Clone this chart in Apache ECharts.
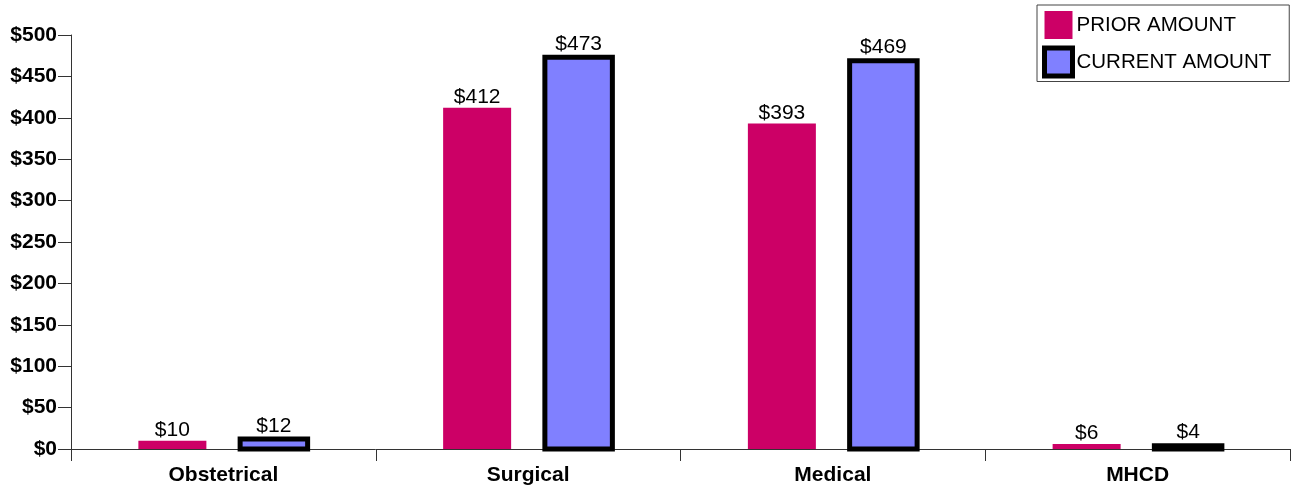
<!DOCTYPE html>
<html>
<head>
<meta charset="utf-8">
<script src="https://cdn.jsdelivr.net/npm/echarts@6/dist/echarts.min.js"></script>
<style>html,body{margin:0;padding:0;background:#fff}#c{width:1298px;height:487px}</style>
</head>
<body>
<div id="c"></div>
<script>
var categories = ['Obstetrical', 'Surgical', 'Medical', 'MHCD'];
var priorAmount = [10, 412, 393, 6];
var currentAmount = [12, 473, 469, 4];
var yTicks = [0, 50, 100, 150, 200, 250, 300, 350, 400, 450, 500];

var font = 'Liberation Sans, Arial, sans-serif';
var PRIOR_COLOR = '#CC0066';
var CURRENT_COLOR = '#8080FF';

function toPairs(arr) { return arr.map(function (v, i) { return [i, v]; }); }

// bar drawn through the axis scales: offset and width are fractions of the category band
function barRenderer(offsetFrac, widthFrac, fill, stroke, lineWidth) {
  return function (params, api) {
    var idx = api.value(0), v = api.value(1);
    var top = api.coord([idx, v]);
    var base = api.coord([idx, 0]);
    var band = api.size([1, 0])[0];
    var w = band * widthFrac;
    var cx = top[0] + band * offsetFrac;
    return {
      type: 'rect',
      shape: {x: cx - w / 2, y: top[1], width: w, height: base[1] - top[1]},
      style: {fill: fill, stroke: stroke, lineWidth: lineWidth},
      textContent: {
        style: {text: '$' + v, fontFamily: font, fontSize: 21, fill: '#000'}
      },
      textConfig: {position: 'top', distance: 0}
    };
  };
}

var chart = echarts.init(document.getElementById('c'), null, {renderer: 'canvas'});
chart.setOption({
  animation: false,
  grid: {left: 71, right: 8, top: 35, bottom: 38},
  legend: {
    orient: 'vertical', left: 1037, top: 5,
    backgroundColor: '#fff', borderColor: '#444', borderWidth: 1,
    padding: [6, 18, 3, 5], itemGap: 6.5, itemWidth: 28, itemHeight: 28,
    selectedMode: false,
    textStyle: {fontFamily: font, fontSize: 20.5, color: '#000', padding: [0, 0, 4, -1]},
    data: [
      {name: 'PRIOR AMOUNT', icon: 'rect', itemStyle: {color: PRIOR_COLOR, borderWidth: 0}},
      {name: 'CURRENT AMOUNT', icon: 'rect', itemStyle: {color: CURRENT_COLOR, borderColor: '#000', borderWidth: 5}}
    ]
  },
  xAxis: {
    type: 'category', data: categories,
    axisLine: {lineStyle: {color: '#333', width: 1}},
    axisTick: {show: true, length: 12, lineStyle: {color: '#333'}},
    axisLabel: {fontFamily: font, fontSize: 21, fontWeight: 'bold', color: '#000', margin: 16}
  },
  yAxis: {
    type: 'value', min: 0, max: 500, interval: 50,
    splitLine: {show: false},
    axisLine: {show: true, lineStyle: {color: '#333', width: 1}},
    axisTick: {show: true, length: 13, lineStyle: {color: '#333'}},
    axisLabel: {fontFamily: font, fontSize: 21, fontWeight: 'bold', color: '#000', margin: 14,
      formatter: function (v) { return '$' + v; }}
  },
  series: [
    {
      name: 'PRIOR AMOUNT', type: 'custom', data: toPairs(priorAmount),
      encode: {x: 0, y: 1},
      itemStyle: {color: PRIOR_COLOR},
      renderItem: barRenderer(-51 / 304.75, 68 / 304.75, PRIOR_COLOR, null, 0)
    },
    {
      name: 'CURRENT AMOUNT', type: 'custom', data: toPairs(currentAmount),
      encode: {x: 0, y: 1},
      itemStyle: {color: CURRENT_COLOR},
      renderItem: barRenderer(50.5 / 304.75, 67.5 / 304.75, CURRENT_COLOR, '#000', 5)
    }
  ]
});
</script>
</body>
</html>
